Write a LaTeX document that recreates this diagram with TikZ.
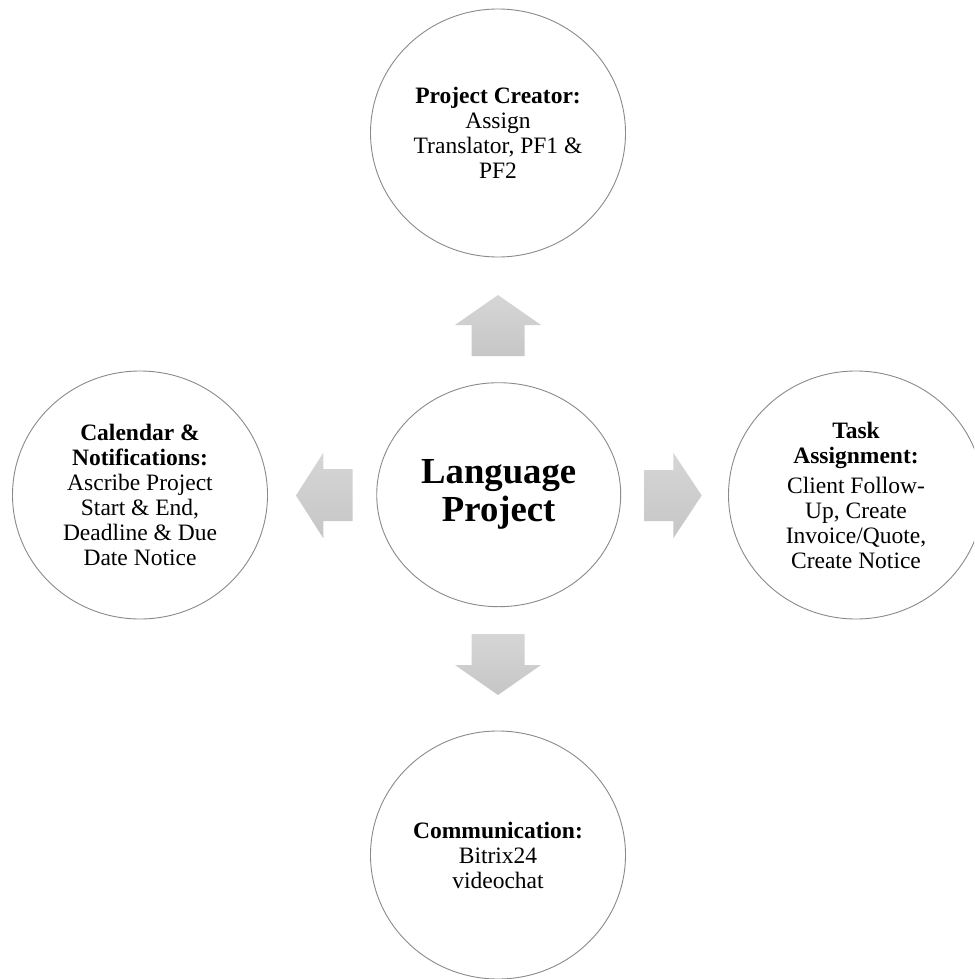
\documentclass[tikz,border=0pt]{standalone}
\usepackage{fontspec}
\setmainfont{Liberation Serif}
\usetikzlibrary{shapes.geometric}

\definecolor{ringgray}{RGB}{138,138,138}
\definecolor{arrowlight}{RGB}{214,214,214}
\definecolor{arrowdark}{RGB}{198,198,198}

\tikzset{
  ring/.style={draw=ringgray, line width=0.9pt, ellipse, fill=white,
    inner sep=0pt, align=center, text=black,
    minimum width=255pt, minimum height=248pt,
    font=\fontsize{23.5}{25}\selectfont},
  hubring/.style={ring, minimum width=244pt, minimum height=224pt,
    font=\fontsize{36.7}{37.7}\selectfont\bfseries},
  blockarrow/.style={draw=none, top color=arrowlight, bottom color=arrowdark}
}

\begin{document}
\begin{tikzpicture}[x=1pt, y=-1pt]
  \useasboundingbox (0,0) rectangle (974,979);
  \clip (0,0) rectangle (974,979);

  % central topic
  \node[hubring] (hub) at (498.7,494.7) {Language\\Project};

  % surrounding topics
  \node[ring] (creator) at (498,133)
    {\textbf{Project Creator:}\\Assign\\Translator, PF1 \&\\PF2};
  \node[ring] (calendar) at (140,495)
    {\textbf{Calendar \&}\\\textbf{Notifications:}\\Ascribe Project\\Start \& End,\\Deadline \& Due\\Date Notice};
  \node[ring] (tasks) at (856,495)
    {\textbf{Task}\\\textbf{Assignment:}\\[5pt]Client Follow-\\Up, Create\\Invoice/Quote,\\Create Notice};
  \node[ring] (comms) at (498,855)
    {\textbf{Communication:}\\Bitrix24\\videochat};

  % block arrows pointing outward from the hub
  \path[blockarrow] (498,295) -- (541,325) -- (524.5,325) -- (524.5,356)
    -- (471.5,356) -- (471.5,325) -- (455,325) -- cycle;
  \path[blockarrow] (498,695) -- (541,665) -- (524.5,665) -- (524.5,634)
    -- (471.5,634) -- (471.5,665) -- (455,665) -- cycle;
  \path[blockarrow] (296,495.5) -- (323.3,452.7) -- (323.3,469) -- (352.7,469)
    -- (352.7,521) -- (323.3,521) -- (323.3,538.3) -- cycle;
  \path[blockarrow] (701.7,495.5) -- (673.3,452.7) -- (673.3,470) -- (644,470)
    -- (644,521) -- (673.3,521) -- (673.3,538.3) -- cycle;
\end{tikzpicture}
\end{document}
